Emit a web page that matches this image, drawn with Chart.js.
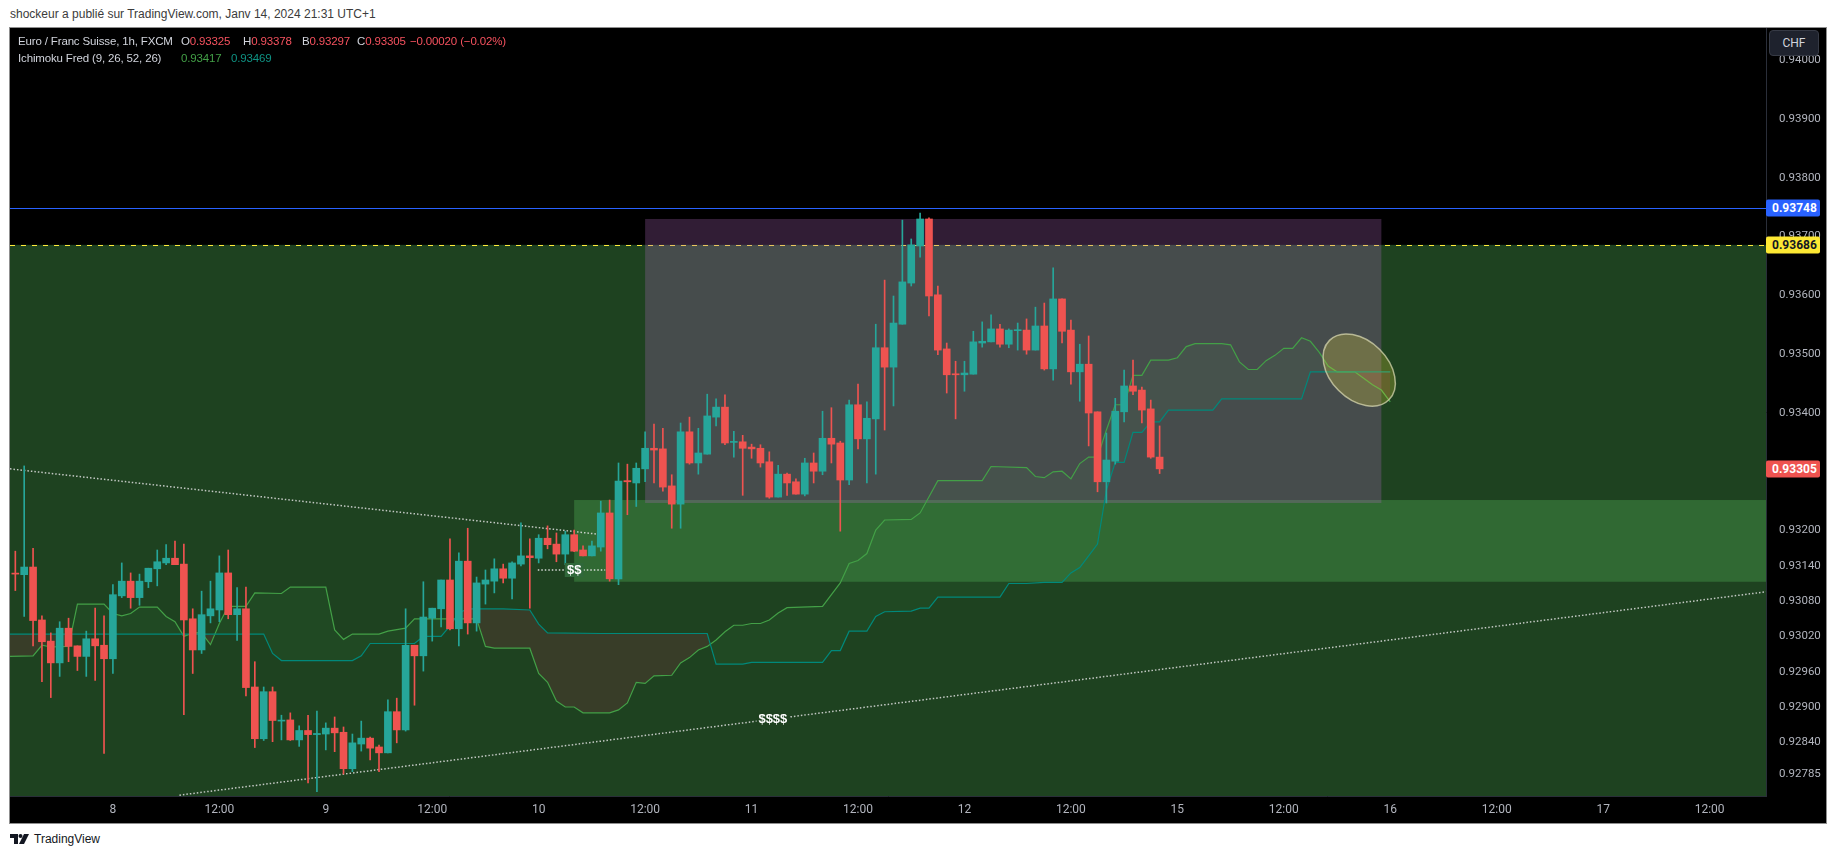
<!DOCTYPE html>
<html><head><meta charset="utf-8">
<script src="https://cdn.jsdelivr.net/npm/chart.js@4.4.1/dist/chart.umd.min.js"></script>
<style>
html,body{margin:0;padding:0;background:#fff;}
body{width:1835px;height:858px;position:relative;overflow:hidden;font-family:"Liberation Sans",Arial,sans-serif;}
#title{position:absolute;left:10px;top:7px;font-size:12px;color:#3b3b3b;white-space:nowrap;}
#panel{position:absolute;left:9px;top:27px;width:1816px;height:795px;border:1px solid #8f8f8f;background:#000;}
#cwrap{position:absolute;left:0;top:0;width:1816px;height:795px;}
.lg{position:absolute;font-size:11.5px;white-space:nowrap;color:#d1d4dc;letter-spacing:-0.15px;}
.rd{color:#f7525f}
.gr{color:#43a047}
.tl{color:#0f9384}
.box{position:absolute;left:1766px;width:54px;height:17px;line-height:17px;font-size:12px;font-weight:bold;padding-left:6px;box-sizing:border-box;transform:translateY(-50%);border-radius:2px;font-family:Roboto,"Liberation Sans",sans-serif;}
#chf{position:absolute;left:1769px;top:30px;width:50px;height:26px;box-sizing:border-box;border:1px solid #363a45;border-radius:4px;background:#1e222d;color:#d1d4dc;font-size:12px;line-height:24px;text-align:center;font-family:Roboto,sans-serif;}
.dl{position:absolute;color:#fff;font-size:13px;font-weight:bold;transform:translate(-50%,-50%);padding:0 2px;line-height:14px;font-family:"Liberation Sans",sans-serif;}
#footer{position:absolute;left:10px;top:832px;font-size:12px;color:#131722;display:flex;align-items:center;gap:4px;}
</style></head>
<body>
<div id="title">shockeur a publié sur TradingView.com, Janv 14, 2024 21:31 UTC+1</div>
<div id="panel"><div id="cwrap"><canvas id="c"></canvas></div></div>
<div class="lg" style="left:18px;top:35px">Euro / Franc Suisse, 1h, FXCM</div>
<div class="lg" style="left:181px;top:35px">O<span class="rd">0.93325</span></div>
<div class="lg" style="left:243px;top:35px">H<span class="rd">0.93378</span></div>
<div class="lg" style="left:302px;top:35px">B<span class="rd">0.93297</span></div>
<div class="lg" style="left:357px;top:35px">C<span class="rd">0.93305</span></div>
<div class="lg rd" style="left:410px;top:35px">−0.00020 (−0.02%)</div>
<div class="lg" style="left:18px;top:52px">Ichimoku Fred (9, 26, 52, 26)</div>
<div class="lg gr" style="left:181px;top:52px">0.93417</div>
<div class="lg tl" style="left:231px;top:52px">0.93469</div>
<div id="chf">CHF</div>
<div class="box" id="lblBlue" style="background:#2962ff;color:#fff">0.93748</div>
<div class="box" id="lblYellow" style="background:#fde833;color:#131722">0.93686</div>
<div class="box" id="lblRed" style="background:#ef5350;color:#fff">0.93305</div>
<div class="dl" id="dollar2" style="background:#30683a">$$</div>
<div class="dl" id="dollar4" style="background:#1e411f">$$$$</div>
<div id="footer"><svg width="20" height="12" viewBox="0 0 20 12"><path d="M0 1h8v10H4V5H0z" fill="#131722"/><circle cx="10.5" cy="3" r="2" fill="#131722"/><path d="M14 1h5l-5 10h-5z" fill="#131722"/></svg><span>TradingView</span></div>
<script>
// ---- candles (hourly slots) ----
const opens = [0.93127,0.93125,0.93138,0.93048,0.93012,0.92975,0.93034,0.93004,0.92986,0.93016,
0.93005,0.92982,0.93089,0.93114,0.93086,0.93113,0.93135,0.93145,0.93153,0.93143,
0.93050,0.92997,0.93055,0.93065,0.93128,0.93057,0.93067,0.92934,0.92846,0.92926,
0.92876,0.92878,0.92844,0.92860,0.92853,0.92854,0.92864,0.92857,0.92795,0.92837,
0.92847,0.92832,0.92822,0.92892,0.92861,0.93005,0.92987,0.93051,0.93067,0.93116,
0.93033,0.93148,0.93043,0.93109,0.93114,0.93135,0.93119,0.93143,0.93157,0.93153,
0.93187,0.93177,0.93160,0.93193,0.93167,0.93157,0.93172,0.93230,0.93118,0.93285,
0.93281,0.93305,0.93340,0.93339,0.93276,0.93245,0.93368,0.93315,0.93330,0.93393,
0.93410,0.93350,0.93351,0.93342,0.93340,0.93317,0.93257,0.93296,0.93283,0.93262,
0.93315,0.93301,0.93357,0.93349,0.93286,0.93414,0.93356,0.93390,0.93511,0.93478,
0.93551,0.93621,0.93684,0.93730,0.93601,0.93509,0.93466,0.93465,0.93466,0.93519,
0.93521,0.93543,0.93517,0.93540,0.93541,0.93507,0.93548,0.93475,0.93594,0.93541,
0.93470,0.93483,0.93402,0.93283,0.93318,0.93402,0.93446,0.93439,0.93407,0.93325];
const highs = [0.93165,0.93310,0.93170,0.93055,0.93026,0.93045,0.93051,0.93004,0.93029,0.93068,
0.93055,0.93108,0.93145,0.93128,0.93126,0.93136,0.93167,0.93176,0.93182,0.93177,
0.93067,0.93097,0.93114,0.93157,0.93167,0.93103,0.93104,0.92977,0.92934,0.92934,
0.92886,0.92890,0.92868,0.92886,0.92893,0.92873,0.92883,0.92866,0.92854,0.92876,
0.92849,0.92835,0.92912,0.92915,0.93067,0.93005,0.93113,0.93068,0.93116,0.93186,
0.93162,0.93204,0.93121,0.93133,0.93152,0.93143,0.93147,0.93213,0.93186,0.93193,
0.93208,0.93196,0.93199,0.93201,0.93174,0.93182,0.93250,0.93252,0.93315,0.93313,
0.93315,0.93368,0.93381,0.93374,0.93295,0.93383,0.93393,0.93374,0.93432,0.93424,
0.93431,0.93369,0.93362,0.93347,0.93346,0.93334,0.93311,0.93298,0.93288,0.93323,
0.93332,0.93403,0.93409,0.93352,0.93422,0.93449,0.93419,0.93551,0.93626,0.93599,
0.93728,0.93696,0.93740,0.93732,0.93616,0.93519,0.93488,0.93488,0.93539,0.93555,
0.93567,0.93551,0.93543,0.93553,0.93560,0.93580,0.93587,0.93647,0.93594,0.93558,
0.93517,0.93531,0.93402,0.93366,0.93425,0.93473,0.93490,0.93444,0.93422,0.93378];
const lows = [0.93098,0.93054,0.93004,0.92943,0.92916,0.92952,0.92977,0.92962,0.92952,0.92945,
0.92821,0.92957,0.93086,0.93068,0.93073,0.93103,0.93106,0.93142,0.93142,0.92887,
0.92957,0.92991,0.93043,0.93045,0.93050,0.93013,0.92919,0.92831,0.92843,0.92841,
0.92844,0.92843,0.92833,0.92771,0.92756,0.92827,0.92824,0.92786,0.92790,0.92825,
0.92810,0.92790,0.92822,0.92839,0.92859,0.92903,0.92961,0.93012,0.93036,0.93031,
0.93004,0.93024,0.93029,0.93075,0.93094,0.93111,0.93084,0.93140,0.93068,0.93145,
0.93169,0.93147,0.93142,0.93164,0.93157,0.93157,0.93165,0.93114,0.93108,0.93227,
0.93241,0.93283,0.93281,0.93267,0.93204,0.93204,0.93313,0.93296,0.93330,0.93378,
0.93346,0.93325,0.93260,0.93323,0.93308,0.93255,0.93257,0.93260,0.93262,0.93259,
0.93281,0.93295,0.93315,0.93199,0.93278,0.93339,0.93281,0.93296,0.93371,0.93412,
0.93551,0.93616,0.93665,0.93565,0.93499,0.93434,0.93390,0.93437,0.93466,0.93512,
0.93521,0.93512,0.93511,0.93507,0.93500,0.93507,0.93473,0.93456,0.93519,0.93449,
0.93420,0.93344,0.93266,0.93247,0.93313,0.93385,0.93431,0.93383,0.93323,0.93297];
const closes = [0.93126,0.93138,0.93047,0.93011,0.92975,0.93034,0.93003,0.92986,0.93016,0.93004,
0.92982,0.93091,0.93114,0.93086,0.93114,0.93136,0.93147,0.93153,0.93142,0.93048,
0.92997,0.93057,0.93067,0.93128,0.93057,0.93067,0.92933,0.92846,0.92926,0.92877,
0.92877,0.92844,0.92860,0.92853,0.92855,0.92864,0.92856,0.92795,0.92839,0.92847,
0.92830,0.92822,0.92892,0.92861,0.93005,0.92987,0.93053,0.93068,0.93116,0.93033,
0.93148,0.93043,0.93111,0.93116,0.93135,0.93119,0.93145,0.93157,0.93154,0.93187,
0.93176,0.93160,0.93193,0.93165,0.93157,0.93174,0.93230,0.93118,0.93284,0.93283,
0.93306,0.93340,0.93337,0.93274,0.93245,0.93368,0.93315,0.93332,0.93395,0.93410,
0.93349,0.93351,0.93340,0.93339,0.93315,0.93257,0.93296,0.93281,0.93262,0.93315,
0.93301,0.93357,0.93347,0.93286,0.93414,0.93356,0.93391,0.93511,0.93478,0.93553,
0.93623,0.93686,0.93730,0.93599,0.93507,0.93465,0.93465,0.93468,0.93521,0.93522,
0.93543,0.93517,0.93541,0.93541,0.93507,0.93548,0.93475,0.93594,0.93539,0.93470,
0.93483,0.93400,0.93283,0.93320,0.93403,0.93446,0.93437,0.93405,0.93325,0.93305];

// ---- Ichimoku cloud spans (slot, price vertices) ----
const spanASlots = [-0.6,2,3,4,6,7,10,11,12,13,14,16,17,18,19,20,21,22,23,24,26,27,30,31,35,36,37,38,41,42,44,45,52,53,54,58,59,60,61,62,63,64,67,68,69,70,71,72,74,75,76,77,78,79,80,81,82,83,84,85,86,87,91,93,94,95,96,97,98,101,102,104,109,110,114,115,116,117,118,119,120,121,122,123,124,125,126,127,128,130,131,132,133,136,137,138,139,140,141,142,143,144,145,146,147,148,149,151,152,153,154,155];
const spanAValues = [0.92986,0.92987,0.93005,0.93002,0.93003,0.93075,0.93075,0.93059,0.93055,0.93059,0.93070,0.93070,0.93054,0.93045,0.93020,0.93026,0.93026,0.93006,0.93042,0.93071,0.93071,0.93094,0.93093,0.93104,0.93104,0.93031,0.93015,0.93024,0.93024,0.93029,0.93034,0.93050,0.93050,0.93003,0.93000,0.93000,0.92957,0.92942,0.92910,0.92900,0.92900,0.92890,0.92890,0.92895,0.92907,0.92942,0.92940,0.92953,0.92954,0.92975,0.92984,0.92997,0.93003,0.93014,0.93028,0.93039,0.93039,0.93042,0.93042,0.93048,0.93060,0.93069,0.93071,0.93111,0.93144,0.93149,0.93161,0.93201,0.93218,0.93219,0.93230,0.93285,0.93285,0.93309,0.93307,0.93292,0.93290,0.93300,0.93301,0.93288,0.93314,0.93325,0.93325,0.93371,0.93414,0.93414,0.93464,0.93464,0.93490,0.93490,0.93494,0.93513,0.93518,0.93518,0.93516,0.93487,0.93474,0.93474,0.93489,0.93498,0.93510,0.93510,0.93528,0.93522,0.93503,0.93480,0.93470,0.93470,0.93459,0.93448,0.93439,0.93419];
const spanBSlots = [-0.6,28,29,30,38,39,40,45,46,48,49,50,51,55,58,59,60,66,78,79,82,83,91,92,93,94,96,97,98,101,102,103,104,111,112,114,116,118,119,120,121,122,123,124,125,126,127,128,129,130,135,136,145,146,155];
const spanBValues = [0.93024,0.93024,0.92991,0.92979,0.92979,0.92987,0.93008,0.93008,0.93020,0.93020,0.93038,0.93060,0.93067,0.93067,0.93065,0.93041,0.93026,0.93025,0.93025,0.92973,0.92973,0.92976,0.92976,0.92996,0.92996,0.93029,0.93029,0.93054,0.93062,0.93063,0.93068,0.93068,0.93087,0.93087,0.93110,0.93110,0.93112,0.93112,0.93128,0.93137,0.93157,0.93177,0.93269,0.93316,0.93316,0.93367,0.93367,0.93385,0.93385,0.93405,0.93405,0.93424,0.93424,0.93470,0.93470];

// ---- drawings ----
const trendDownSlots = [-0.6, 65.6];
const trendDownValues = [0.93305, 0.93194];
const trendUpSlots = [18.5, 197.4];
const trendUpValues = [0.92750, 0.93096];
const dollarLineSlots = [58.9, 66.5];
const dollarLineValue = 0.93133;
const dollar2Slot = 63.0;
const dollar4Slot = 85.4, dollar4Value = 0.92880;
const blueLevel = 0.93748;
const yellowLevel = 0.93686;
const lastPrice = 0.93305;
const brightBox = {from: 63.0, high: 0.93252, low: 0.93113};
const greyBox = {from: 71.0, to: 154.0, high: 0.93730, low: 0.93247};
const ellipseCenter = {slot: 151.5, price: 0.93473};

// ---- axes ----
const xTickSlots = [11,23,35,47,59,71,83,95,107,119,131,143,155,167,179,191];
const xTickLabels = ['8','12:00','9','12:00','10','12:00','11','12:00','12','12:00','15','12:00','16','12:00','17','12:00'];
const yTickValues = [0.94000,0.93900,0.93800,0.93700,0.93600,0.93500,0.93400,0.93200,0.93140,0.93080,0.93020,0.92960,0.92900,0.92840,0.92785];
const xMin = -0.6, xMax = 197.36, yMin = 0.927486, yMax = 0.940548;

const UP = '#26a69a', DOWN = '#ef5350';
const candleColors = opens.map((o,i)=> closes[i] >= o ? UP : DOWN);
const pts = (xs, ys) => xs.map((x,k)=>({x, y: ys[k]}));

const OX = 10, OY = 28;
const drawPlugin = {
  id: 'drawings',
  beforeDatasetsDraw(chart){
    const {ctx, chartArea:a, scales:{x,y}} = chart;
    ctx.save();
    ctx.beginPath(); ctx.rect(a.left, a.top, a.right-a.left, a.bottom-a.top); ctx.clip();
    const zt = y.getPixelForValue(yellowLevel);
    ctx.fillStyle = 'rgba(76,165,80,0.4)';
    ctx.fillRect(a.left, zt, a.right-a.left, a.bottom-zt);
    const bx = x.getPixelForValue(brightBox.from);
    const b1 = y.getPixelForValue(brightBox.high), b2 = y.getPixelForValue(brightBox.low);
    ctx.fillRect(bx, b1, a.right-bx, b2-b1);
    ctx.lineWidth = 1;
    ctx.strokeStyle = '#ffeb3b'; ctx.setLineDash([5,6]);
    ctx.beginPath(); ctx.moveTo(a.left, Math.round(zt)+0.5); ctx.lineTo(a.right, Math.round(zt)+0.5); ctx.stroke();
    ctx.setLineDash([]);
    const bl = y.getPixelForValue(blueLevel);
    ctx.strokeStyle = '#2962ff';
    ctx.beginPath(); ctx.moveTo(a.left, Math.round(bl)+0.5); ctx.lineTo(a.right, Math.round(bl)+0.5); ctx.stroke();
    const gx1 = x.getPixelForValue(greyBox.from), gx2 = x.getPixelForValue(greyBox.to);
    const gy1 = y.getPixelForValue(greyBox.high), gy2 = y.getPixelForValue(greyBox.low);
    ctx.fillStyle = 'rgba(175,104,189,0.28)';
    ctx.fillRect(gx1, gy1, gx2-gx1, gy2-gy1);
    ctx.restore();
  },
  afterDatasetsDraw(chart){
    const {ctx, chartArea:a, scales:{x,y}} = chart;
    ctx.save();
    ctx.beginPath(); ctx.rect(a.left, a.top, a.right-a.left, a.bottom-a.top); ctx.clip();
    const cx = x.getPixelForValue(ellipseCenter.slot), cy = y.getPixelForValue(ellipseCenter.price);
    ctx.beginPath(); ctx.ellipse(cx, cy, 42, 29, Math.PI/4, 0, Math.PI*2);
    ctx.fillStyle = 'rgba(255,235,59,0.22)'; ctx.fill();
    ctx.strokeStyle = 'rgba(215,215,175,0.75)'; ctx.lineWidth = 1.5; ctx.stroke();
    ctx.restore();
  },
  afterDraw(chart){
    const {scales:{x,y}} = chart;
    const setTop = (id, v) => { document.getElementById(id).style.top = (y.getPixelForValue(v)+OY)+'px'; };
    setTop('lblBlue', blueLevel); setTop('lblYellow', yellowLevel); setTop('lblRed', lastPrice);
    const d2 = document.getElementById('dollar2');
    d2.style.left = (x.getPixelForValue(dollar2Slot)+OX)+'px'; d2.style.top = (y.getPixelForValue(dollarLineValue)+OY)+'px';
    const d4 = document.getElementById('dollar4');
    d4.style.left = (x.getPixelForValue(dollar4Slot)+OX)+'px'; d4.style.top = (y.getPixelForValue(dollar4Value)+OY)+'px';
  }
};

new Chart(document.getElementById('c'), {
  type: 'bar',
  data: { datasets: [
    { type:'line', label:'spanA', data: pts(spanASlots, spanAValues), borderColor:'#43a047', borderWidth:1.2, pointRadius:0, tension:0,
      fill:{target:1, above:'rgba(76,175,80,0.07)', below:'rgba(180,40,80,0.18)'}, order:10 },
    { type:'line', label:'spanB', data: pts(spanBSlots, spanBValues), borderColor:'#00897b', borderWidth:1.2, pointRadius:0, tension:0, fill:false, order:9 },
    { type:'line', label:'trendDown', data: pts(trendDownSlots, trendDownValues), borderColor:'rgba(225,225,225,0.85)', borderWidth:1.5, borderDash:[1.5,2], pointRadius:0, fill:false, order:8 },
    { type:'line', label:'trendUp', data: pts(trendUpSlots, trendUpValues), borderColor:'rgba(225,225,225,0.85)', borderWidth:1.5, borderDash:[1.5,2], pointRadius:0, fill:false, order:8 },
    { type:'line', label:'dollar', data: dollarLineSlots.map(s=>({x:s, y:dollarLineValue})), borderColor:'rgba(235,235,235,0.9)', borderWidth:1.5, borderDash:[1.5,2], pointRadius:0, fill:false, order:8 },
    { type:'bar', label:'wicks', data: opens.map((o,i)=>({x:i, y:[lows[i], highs[i]]})), backgroundColor:candleColors, barThickness:1, grouped:false, order:2 },
    { type:'bar', label:'bodies', data: opens.map((o,i)=>({x:i, y:[o, closes[i]]})), backgroundColor:candleColors, barThickness:7, minBarLength:1, grouped:false, order:1 }
  ]},
  options: {
    responsive:true, maintainAspectRatio:false, animation:false,
    layout:{padding:0},
    events:[],
    plugins:{ legend:{display:false}, tooltip:{enabled:false}, title:{display:false} },
    scales:{
      x:{ type:'linear', min:xMin, max:xMax, offset:false,
          grid:{display:false, drawTicks:false}, border:{display:true, color:'#2a2e39'},
          ticks:{ color:'#b2b5be', font:{size:12, family:'Roboto'}, autoSkip:false, maxRotation:0, padding:7,
                  callback:(v,i)=> xTickLabels[i] },
          afterBuildTicks:(s)=>{ s.ticks = xTickSlots.map(v=>({value:v})); },
          afterFit:(s)=>{ s.height = 27; s.paddingLeft = 0; s.paddingRight = 0; } },
      y:{ type:'linear', position:'right', min:yMin, max:yMax,
          grid:{display:false, drawTicks:false}, border:{display:true, color:'#2a2e39'},
          ticks:{ color:'#b2b5be', font:{size:11.5, family:'Roboto'}, padding:13, callback:(v)=> Number(v).toFixed(5) },
          afterBuildTicks:(s)=>{ s.ticks = yTickValues.map(v=>({value:v})); },
          afterFit:(s)=>{ s.width = 60; s.paddingTop = 0; s.paddingBottom = 0; } }
    }
  },
  plugins:[drawPlugin]
});
</script>
</body></html>
